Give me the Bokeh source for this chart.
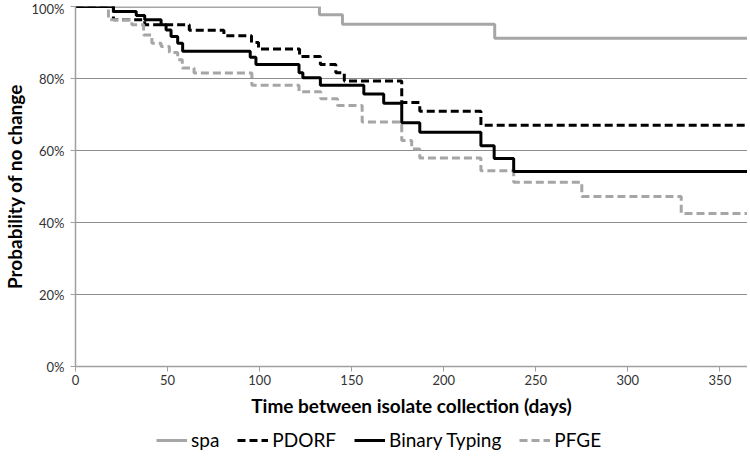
from bokeh.plotting import figure
from bokeh.layouts import column
from bokeh.models import Range1d, FixedTicker, NumeralTickFormatter, Legend, LegendItem
from bokeh.embed import file_html
from bokeh.resources import INLINE

# ---- data ----
x_ticks = [0, 50, 100, 150, 200, 250, 300, 350]
y_ticks = [0.0, 0.2, 0.4, 0.6, 0.8, 1.0]

spa_days = [0, 132.5, 145, 227.7, 365]
spa_prob = [1.0, 0.977, 0.951, 0.912, 0.912]

pdorf_days = [0, 20.6, 37.6, 61.8, 80.6, 95.6, 99.4, 121.7, 133, 141.4, 146, 177.2, 187, 220.2, 365]
pdorf_prob = [1.0, 0.963, 0.949, 0.934, 0.919, 0.900, 0.882, 0.861, 0.839, 0.816, 0.793, 0.733, 0.709, 0.670, 0.670]

binary_days = [0, 20.6, 33, 37.6, 46.5, 49.2, 51.9, 55.5, 58.2, 94.9, 98, 121.4, 123.5, 133,
               156.6, 167.4, 177.2, 187, 220.2, 227.4, 238, 365]
binary_prob = [1.0, 0.986, 0.975, 0.963, 0.949, 0.935, 0.917, 0.898, 0.876, 0.859, 0.839, 0.816, 0.802, 0.781,
               0.757, 0.731, 0.677, 0.651, 0.613, 0.578, 0.542, 0.542]

pfge_days = [0, 17.9, 30.6, 37, 41.5, 46.5, 51, 55.5, 58, 64.4, 95.8, 121.4, 133.2, 142.3, 155.7,
             177.2, 182.6, 187, 220.2, 238, 275, 329, 365]
pfge_prob = [1.0, 0.963, 0.949, 0.921, 0.898, 0.889, 0.872, 0.852, 0.829, 0.815, 0.781, 0.763, 0.744, 0.725, 0.679,
             0.628, 0.604, 0.579, 0.544, 0.512, 0.472, 0.425, 0.425]

series_names = ["spa", "PDORF", "Binary Typing", "PFGE"]

FONT = "Lato"
GRAY = "#A6A6A6"
styles = [
    dict(line_color=GRAY, line_width=3),
    dict(line_color="#000000", line_width=3, line_dash="8 4"),
    dict(line_color="#000000", line_width=3),
    dict(line_color=GRAY, line_width=3, line_dash="8 4"),
]
series = [(spa_days, spa_prob), (pdorf_days, pdorf_prob), (binary_days, binary_prob), (pfge_days, pfge_prob)]

p = figure(frame_width=672, frame_height=360, x_range=Range1d(0, 365), y_range=Range1d(0, 1),
           output_backend="svg", toolbar_location=None,
           min_border_left=70, min_border_right=0, min_border_top=6, min_border_bottom=0)
p.outline_line_color = None
p.background_fill_color = "white"
p.border_fill_color = "white"

# grid
p.xgrid.visible = False
p.ygrid.ticker = FixedTicker(ticks=y_ticks)
p.ygrid.grid_line_color = "#8C8C8C"
p.ygrid.grid_line_width = 1

# axes
p.xaxis.ticker = FixedTicker(ticks=x_ticks)
p.yaxis.ticker = FixedTicker(ticks=y_ticks)
p.yaxis.formatter = NumeralTickFormatter(format="0%")
for ax in (p.xaxis[0], p.yaxis[0]):
    ax.axis_line_color = "#A0A0A0"
    ax.axis_line_width = 1.5
    ax.major_tick_line_color = "#A0A0A0"
    ax.major_tick_line_width = 1
    ax.major_tick_out = 5
    ax.major_tick_in = 0
    ax.minor_tick_out = 0
    ax.minor_tick_in = 0
    ax.major_label_text_font = FONT
    ax.major_label_text_font_size = "13px"
    ax.major_label_text_color = "#333333"
    ax.axis_label_text_font = FONT
    ax.axis_label_text_font_style = "bold"
    ax.axis_label_text_font_size = "19px"
    ax.axis_label_text_color = "#000000"

p.xaxis.axis_label = "Time between isolate collection (days)"
p.yaxis.axis_label = "Probability of no change"
p.xaxis.major_label_standoff = 3
p.xaxis.axis_label_standoff = 6
p.yaxis.major_label_standoff = 6
p.yaxis.axis_label_standoff = 2

# step lines (PFGE drawn before Binary Typing so the black solid sits on top)
draw_order = [0, 1, 3, 2]
for i in draw_order:
    xs, ys = series[i]
    p.step(xs, ys, mode="after", **styles[i])

# legend strip below the chart: same series, drawn on a y range that keeps them out of view,
# so only the legend samples are visible
lg = figure(width=742, height=32, x_range=Range1d(0, 365), y_range=Range1d(5, 6),
            output_backend="svg", toolbar_location=None, x_axis_type=None, y_axis_type=None,
            min_border_left=0, min_border_right=0, min_border_top=0, min_border_bottom=0)
lg.outline_line_color = None
lg.xgrid.visible = False
lg.ygrid.visible = False
items = []
for name, st, (xs, ys) in zip(series_names, styles, series):
    r = lg.step(xs, ys, mode="after", **st)
    items.append(LegendItem(label=name, renderers=[r]))

legend = Legend(items=items, orientation="horizontal", location=(81, 0))
legend.border_line_color = None
legend.background_fill_alpha = 0
legend.padding = 3
legend.margin = 0
legend.spacing = 18
legend.glyph_width = 31
legend.label_standoff = 4
legend.label_text_font = FONT
legend.label_text_font_size = "19px"
legend.label_text_color = "#000000"
lg.add_layout(legend, "center")

layout = column(p, lg, spacing=0)
open("out.html", "w").write(file_html(layout, INLINE))
